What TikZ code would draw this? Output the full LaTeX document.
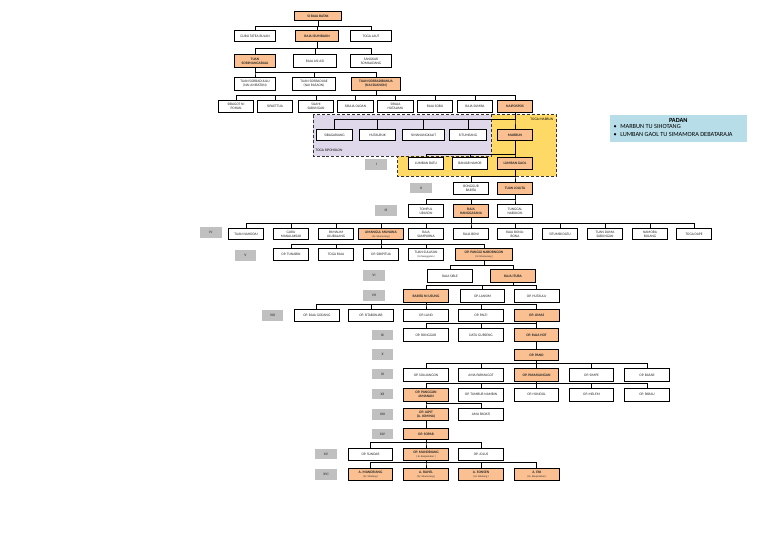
\documentclass[tikz,border=0pt]{standalone}
\usepackage{fontspec}
\setmainfont{Carlito}
\definecolor{keyorange}{RGB}{250,192,145}
\definecolor{gengray}{RGB}{192,192,192}
\definecolor{sipoholonlilac}{RGB}{222,216,234}
\definecolor{marbunyellow}{RGB}{255,217,102}
\definecolor{padanblue}{RGB}{183,221,232}
\newcommand{\boxfont}{\fontsize{3.6}{4.1}\selectfont}
\newcommand{\subfont}{\fontsize{2.6}{3.0}\selectfont\mdseries}
\newcommand{\padanfont}{\fontsize{6.3}{7}\selectfont}
\tikzset{
  person/.style={draw, line width=1bp, fill=white, minimum width=36, minimum height=11.5,
    inner sep=0.3, align=center, font=\boxfont, text=black!85},
  keyperson/.style={person, fill=keyorange, font=\boxfont\bfseries},
  gen/.style={fill=gengray, minimum width=22, minimum height=11, inner sep=0,
    font=\boxfont\bfseries, text=black!70},
  link/.style={line width=0.8bp},
  region/.style={densely dashed, line width=0.9bp, draw=black!80},
  regionlabel/.style={font=\boxfont, inner sep=0.5}
}
\begin{document}
\begin{tikzpicture}[x=1bp, y=-1bp]
    \useasboundingbox (0,0) rectangle (768,538);

    % Toga Marbun and Toga Sipoholon
    \draw[region, fill=marbunyellow] (491.7,114.7) -- (556.7,114.7) -- (556.7,176.3) -- (397.7,176.3)
        -- (397.7,155.7) -- (491.7,155.7) -- cycle;
    \draw[region, fill=sipoholonlilac] (313.3,114.7) rectangle (491.7,156.3);
    \node[regionlabel, anchor=west] (lblsipoholon) at (315,150) {TOGA SIPOHOLON};
    \node[regionlabel, anchor=east] (lblmarbun) at (554,119.7) {TOGA MARBUN};

    % Padan
    \node[fill=padanblue, minimum width=137, minimum height=27, inner sep=0] (padan) at (678.3,128.3) {};
    \node[font=\padanfont\bfseries, inner sep=0] (padantitle) at (678.3,120.2) {PADAN};
    \node[font=\padanfont, anchor=west, inner sep=0] (padan1) at (613.5,126.8) {\textbullet\hspace{3.5pt}MARBUN TU SIHOTANG};
    \node[font=\padanfont, anchor=west, inner sep=0] (padan2) at (613.5,134) {\textbullet\hspace{3.5pt}LUMBAN GAOL TU SIMAMORA DEBATARAJA};

    % Si Raja Batak to Naipospos
    \node[keyperson, minimum width=48, minimum height=9] (batak) at (318,16) {SI RAJA BATAK};
    \node[person, minimum width=42] (guru) at (255,36) {GURU TATEA BULAN};
    \node[keyperson, minimum width=43] (isumbaon) at (317,36) {RAJA ISUMBAON};
    \node[person, minimum width=41] (togalaut) at (371,36) {TOGA LAUT};

    \node[keyperson, minimum width=41, minimum height=12.3] (sorimangaraja) at (255,61) {TUAN\\SORIMANGARAJA};
    \node[person, minimum width=43, minimum height=12.3] (asiasi) at (315,61) {RAJA ASI ASI};
    \node[person, minimum width=41, minimum height=12.3] (sangkar) at (371,61) {SANGKAR\\SOMALIDANG};

    \node[person, minimum width=41, minimum height=12.7] (sorbadijulu) at (255,83.7) {TUAN SORBADIJULU\\(NAI AMBATON)};
    \node[person, minimum width=43, minimum height=12.7] (sorbadijae) at (314,83.7) {TUAN SORBADIJAE\\(NAI RASAON)};
    \node[keyperson, minimum width=50, minimum height=12.7] (sorbadibanua) at (376,83.7) {TUAN SORBADIBANUA\\(NAI SUANON)};

    \node[person, minimum height=12] (pohan) at (236,106.7) {SIBAGOT NI\\POHAN};
    \node[person, minimum height=12] (paettua) at (275,106.7) {SIPAETTUA};
    \node[person, minimum height=12] (silahi) at (316,106.7) {SILAHI\\SABUNGAN};
    \node[person, minimum height=12] (oloan) at (355.5,106.7) {SIRAJA OLOAN};
    \node[person, minimum height=12] (hutalima) at (395.5,106.7) {SIRAJA\\HUTALIMA};
    \node[person, minimum height=12] (sobu) at (435,106.7) {RAJA SOBU};
    \node[person, minimum height=12] (sumba) at (475,106.7) {RAJA SUMBA};
    \node[keyperson, minimum height=12] (naipospos) at (515,106.7) {NAIPOSPOS};

    \node[person] (sibagariang) at (334.5,135) {SIBAGARIANG};
    \node[person] (hutauruk) at (377.5,135) {HUTAURUK};
    \node[person, minimum width=42] (simanungkalit) at (423.5,135) {SIMANUNGKALIT};
    \node[person, minimum width=37] (situmeang) at (468,135) {SITUMEANG};
    \node[keyperson] (marbun) at (515,135) {MARBUN};

    % generations
    \node[gen] (g1) at (376.3,164.2) {I};
    \node[gen] (g2) at (421,188) {II};
    \node[gen] (g3) at (386,210.5) {III};
    \node[gen] (g4) at (211,232.5) {IV};
    \node[gen] (g5) at (245.5,255.8) {V};
    \node[gen] (g6) at (374,275.5) {VI};
    \node[gen] (g7) at (374,295.5) {VII};
    \node[gen] (g8) at (272.5,315.5) {VIII};
    \node[gen] (g9) at (382.5,335) {IX};
    \node[gen] (g10) at (382.5,354.5) {X};
    \node[gen] (g11) at (382.5,374) {XI};
    \node[gen] (g12) at (382.5,394) {XII};
    \node[gen] (g13) at (382.5,414.5) {XIII};
    \node[gen] (g14) at (382.5,434) {XIV};
    \node[gen] (g15) at (326,454) {XV};
    \node[gen] (g16) at (326,474.5) {XVI};

    % I - V
    \node[person] (lbatu) at (426,163.5) {LUMBAN BATU};
    \node[person] (bnahor) at (470,163.5) {BANJAR NAHOR};
    \node[keyperson] (lgaol) at (515,163.5) {LUMBAN GAOL};

    \node[person, minimum height=12.6] (bonggur) at (471,188.3) {BONGGUR\\BARITA};
    \node[keyperson, minimum width=35, minimum height=12.6] (joluta) at (515,188.3) {TUAN JOLUTA};

    \node[person, minimum height=12.6] (tompul) at (426,211) {TOMPUL\\URASON};
    \node[keyperson, minimum height=12.6] (hanggasana) at (471,211) {RAJA\\HANGGASANA};
    \node[person, minimum height=12.6] (tunggal) at (515,211) {TUNGGAL\\NABOLON};

    \node[person, minimum width=35] (nahodai) at (246,234.2) {TUAN NAHODAI};
    \node[person, minimum width=35] (manalaksak) at (291,234.2) {GURU\\MANALAKSAK};
    \node[person, minimum width=35] (pamalim) at (336,234.2) {PAMALIM\\ULUBALANG};
    \node[keyperson, minimum width=45] (amangul) at (381,234.2) {AMANGUL MUNUNA\\{\subfont ( br. Situmorang )}};
    \node[person, minimum width=35] (sampurna) at (426,234.2) {RAJA\\SAMPURNA};
    \node[person, minimum width=35] (boni) at (471,234.2) {RAJA BONI};
    \node[person, minimum width=35] (bonabona) at (515,234.2) {RAJA BONA-\\BONA};
    \node[person, minimum width=35] (situmbi) at (560,234.2) {SITUMBI DATU};
    \node[person, minimum width=35] (duma) at (605,234.2) {TUAN DUMA\\SABUNGAN};
    \node[person, minimum width=35] (namora) at (650,234.2) {NAMORA\\BULANG};
    \node[person, minimum width=35] (dape) at (694,234.2) {TOGA DAPE};

    \node[person, minimum width=35] (tunabin) at (291,254.5) {OP. TUNABIN};
    \node[person, minimum width=35] (togaraja) at (336,254.5) {TOGA RAJA};
    \node[person, minimum width=35] (sibipitua) at (381,254.5) {OP. SIBIPITUA};
    \node[person, minimum width=35] (sulasun) at (426,254.5) {TUAN SULASUN\\{\subfont ( br Nainggolan )}};
    \node[keyperson, minimum width=58] (panggi) at (484,254.5) {OP. PANGGI NABORNGON\\{\subfont ( br Situmorang )}};

    % VI - XVI
    \node[person, minimum width=45, minimum height=12.3] (sible) at (450,276) {RAJA SIBLE};
    \node[keyperson, minimum width=45, minimum height=12.3] (ituba) at (513,276) {RAJA ITUBA};

    \node[keyperson, minimum width=45, minimum height=13] (usung) at (426,296) {BARITA NI USUNG};
    \node[person, minimum width=45, minimum height=13] (lansim) at (482.5,296) {OP. LANSIM};
    \node[person, minimum width=45, minimum height=13] (hutaulu) at (536.7,296) {OP. HUTAULU};

    \node[person, minimum width=45, minimum height=12.3] (godang) at (316.8,315.5) {OP. RAJA GODANG};
    \node[person, minimum width=45, minimum height=12.3] (sitabonjar) at (371,315.5) {OP. SITABONJAR};
    \node[person, minimum width=45, minimum height=12.3] (land) at (426,315.5) {OP. LAND};
    \node[person, minimum width=45, minimum height=12.3] (palti) at (481,315.5) {OP. PALTI};
    \node[keyperson, minimum width=45, minimum height=12.3] (limas) at (536.7,315.5) {OP. LIMAS};

    \node[person, minimum width=45, minimum height=13] (ronggur) at (426,335) {OP. RONGGUR};
    \node[person, minimum width=45, minimum height=13] (gurseng) at (481,335) {DATU GURSENG};
    \node[keyperson, minimum width=44, minimum height=13] (rajahot) at (536.5,335) {OP. RAJA HOT};

    \node[keyperson, minimum width=44] (pano) at (536.5,355) {OP. PANO};

    \node[person, minimum width=45, minimum height=13] (soluangon) at (426,375) {OP. SOLUANGON};
    \node[person, minimum width=45, minimum height=13] (parmagot) at (481,375) {AMA PARMAGOT};
    \node[keyperson, minimum width=44, minimum height=13] (pamasangan) at (536.5,375) {OP. PAMASANGAN};
    \node[person, minimum width=45, minimum height=13] (simpe) at (591.5,375) {OP. SIMPE};
    \node[person, minimum width=45, minimum height=13] (basar) at (647,375) {OP. BASAR};

    \node[keyperson, minimum width=45, minimum height=12.7] (jamanan) at (426,394.7) {OP. PANGGUN\\JAMANAN};
    \node[person, minimum width=45, minimum height=12.7] (nambin) at (481,394.7) {OP. TUMBUR NAMBIN};
    \node[person, minimum width=44, minimum height=12.7] (hondol) at (536.5,394.7) {OP. HONDOL};
    \node[person, minimum width=45, minimum height=12.7] (melem) at (591.5,394.7) {OP. MELEM};
    \node[person, minimum width=45, minimum height=12.7] (parau) at (647,394.7) {OP. PARAU};

    \node[keyperson, minimum width=45, minimum height=12.4] (japit) at (426,414.5) {OP. JAPIT\\(A. JOMINA)};
    \node[person, minimum width=45, minimum height=12.4] (padati) at (481,414.5) {AMA PADATI};

    \node[keyperson, minimum width=45, minimum height=11.7] (sopar) at (426,434) {OP. SOPAR};

    \node[person, minimum width=45, minimum height=12.4] (sundar) at (370.5,454.5) {OP. SUNDAR};
    \node[keyperson, minimum width=45, minimum height=12.4] (mandriang) at (426,454.5) {OP. MANDRIANG\\{\subfont ( br. Banjarnahor )}};
    \node[person, minimum width=45, minimum height=12.4] (jolus) at (481,454.5) {OP. JOLUS};

    \node[keyperson, minimum width=45, minimum height=12.4] (amandriang) at (370.5,474.5) {A. MANDRIANG\\{\subfont ( br. Sihotang )}};
    \node[keyperson, minimum width=45, minimum height=12.4] (rahel) at (426,474.5) {A. RAHEL\\{\subfont ( br. Situmorang )}};
    \node[keyperson, minimum width=45, minimum height=12.4] (sonsen) at (481,474.5) {A. SONSEN\\{\subfont ( br. Sihotang )}};
    \node[keyperson, minimum width=45, minimum height=12.4] (eni) at (536.8,474.5) {A. ENI\\{\subfont ( br. Banjarnahor )}};

    % bar heights
    \coordinate (bar1) at (0,26.7);
    \coordinate (bar2) at (0,48.3);
    \coordinate (bar3) at (0,72.7);
    \coordinate (bar4) at (0,95.5);
    \coordinate (bar5) at (0,119.8);
    \coordinate (bar6) at (0,154.7);
    \coordinate (bar7) at (0,176);
    \coordinate (bar8) at (0,199.7);
    \coordinate (bar9) at (0,223.3);
    \coordinate (bar10) at (0,244);
    \coordinate (bar11) at (0,265.7);
    \coordinate (bar12) at (0,285);
    \coordinate (bar13) at (0,304.3);
    \coordinate (bar14) at (0,323.3);
    \coordinate (bar15) at (0,363.3);
    \coordinate (bar16) at (0,383.3);
    \coordinate (bar17) at (0,403.3);
    \coordinate (bar18) at (0,442.7);
    \coordinate (bar19) at (0,462.7);

    % links
    \foreach \c in {guru,isumbaon,togalaut}
        \draw[link] (batak.south) -- (batak.south |- bar1) -| (\c.north);
    \foreach \c in {sorimangaraja,asiasi,sangkar}
        \draw[link] (isumbaon.south) -- (isumbaon.south |- bar2) -| (\c.north);
    \foreach \c in {sorbadijulu,sorbadijae,sorbadibanua}
        \draw[link] (sorimangaraja.south) -- (sorimangaraja.south |- bar3) -| (\c.north);
    \foreach \c in {pohan,paettua,silahi,oloan,hutalima,sobu,sumba,naipospos}
        \draw[link] (sorbadibanua.south) -- (sorbadibanua.south |- bar4) -| (\c.north);
    \foreach \c in {sibagariang,hutauruk,simanungkalit,situmeang,marbun}
        \draw[link] (naipospos.south) -- (naipospos.south |- bar5) -| (\c.north);
    \foreach \c in {lbatu,bnahor,lgaol}
        \draw[link] (marbun.south) -- (marbun.south |- bar6) -| (\c.north);
    \foreach \c in {bonggur,joluta}
        \draw[link] (lgaol.south) -- (lgaol.south |- bar7) -| (\c.north);
    \foreach \c in {tompul,hanggasana,tunggal}
        \draw[link] (joluta.south) -- (joluta.south |- bar8) -| (\c.north);
    \foreach \c in {nahodai,manalaksak,pamalim,amangul,sampurna,boni,bonabona,situmbi,duma,namora,dape}
        \draw[link] (hanggasana.south) -- (hanggasana.south |- bar9) -| (\c.north);
    \foreach \c in {tunabin,togaraja,sibipitua,sulasun,panggi}
        \draw[link] (amangul.south) -- (amangul.south |- bar10) -| (\c.north);
    \foreach \c in {sible,ituba}
        \draw[link] (panggi.south) -- (panggi.south |- bar11) -| (\c.north);
    \foreach \c in {usung,lansim,hutaulu}
        \draw[link] (ituba.south) -- (ituba.south |- bar12) -| (\c.north);
    \foreach \c in {godang,sitabonjar,land,palti,limas}
        \draw[link] (usung.south) -- (usung.south |- bar13) -| (\c.north);
    \foreach \c in {ronggur,gurseng,rajahot}
        \draw[link] (limas.south) -- (limas.south |- bar14) -| (\c.north);
    \draw[link] (rajahot) -- (pano);
    \foreach \c in {soluangon,parmagot,pamasangan,simpe,basar}
        \draw[link] (pano.south) -- (pano.south |- bar15) -| (\c.north);
    \foreach \c in {jamanan,nambin,hondol,melem,parau}
        \draw[link] (pamasangan.south) -- (pamasangan.south |- bar16) -| (\c.north);
    \foreach \c in {japit,padati}
        \draw[link] (jamanan.south) -- (jamanan.south |- bar17) -| (\c.north);
    \draw[link] (japit) -- (sopar);
    \foreach \c in {sundar,mandriang,jolus}
        \draw[link] (sopar.south) -- (sopar.south |- bar18) -| (\c.north);
    \foreach \c in {amandriang,rahel,sonsen,eni}
        \draw[link] (mandriang.south) -- (mandriang.south |- bar19) -| (\c.north);
\end{tikzpicture}
\end{document}
